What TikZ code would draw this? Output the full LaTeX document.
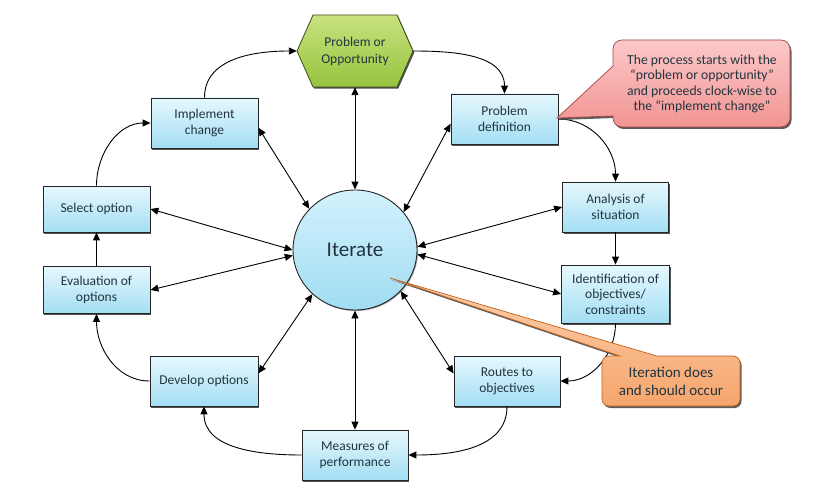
\documentclass[tikz,border=0pt]{standalone}
\usepackage{fontspec}
\setmainfont{Carlito}
\usetikzlibrary{arrows.meta,shadows,calc,shapes.geometric}
\definecolor{boxtop}{HTML}{E6F8FE}
\definecolor{boxbot}{HTML}{A3DEF3}
\definecolor{elltop}{HTML}{D3F2FD}
\definecolor{ellbot}{HTML}{A0DCF2}
\definecolor{hextop}{HTML}{C8E27E}
\definecolor{hexbot}{HTML}{96C43E}
\definecolor{hexline}{HTML}{3F4F1E}
\definecolor{pinktop}{HTML}{FBC9C8}
\definecolor{pinkbot}{HTML}{F19493}
\definecolor{pinkline}{HTML}{A84341}
\definecolor{orgtop}{HTML}{FCD0AE}
\definecolor{orgbot}{HTML}{F6A56C}
\definecolor{orgline}{HTML}{C2621C}
\definecolor{textc}{HTML}{22343F}
\tikzset{
  box/.style={draw=black!85, line width=0.8pt, top color=boxtop, bottom color=boxbot,
    minimum width=107pt, minimum height=50pt, align=center, inner sep=2pt,
    font=\fontsize{13.5}{16}\selectfont, text=textc,
    drop shadow={shadow xshift=1.3pt, shadow yshift=-1.6pt, fill=black!75, opacity=0.9}},
  flow/.style={line width=0.9pt, -{Triangle[length=8pt,width=7pt]}},
  spoke/.style={line width=0.9pt, {Triangle[length=8pt,width=7pt]}-{Triangle[length=8pt,width=7pt]}},
  hexshape/.style={draw=hexline, line width=0.8pt, top color=hextop, bottom color=hexbot,
    drop shadow={shadow xshift=1.3pt, shadow yshift=-1.6pt, fill=black!75, opacity=0.9}},
  pinkshape/.style={draw=pinkline, line width=0.7pt, top color=pinktop, bottom color=pinkbot,
    drop shadow={shadow xshift=1.5pt, shadow yshift=-2pt, fill=black!70, opacity=0.9}},
  orgshape/.style={draw=orgline, line width=0.7pt, top color=orgtop, bottom color=orgbot,
    drop shadow={shadow xshift=1.5pt, shadow yshift=-2pt, fill=black!70, opacity=0.9}},
  plain/.style={align=center, inner sep=0pt, text=textc}
}
\begin{document}
\begin{tikzpicture}[x=1pt,y=-1pt]
\useasboundingbox[fill=white] (0,0) rectangle (824,500);

% central ellipse
\node[draw=black!85, line width=0.9pt, ellipse, top color=elltop, bottom color=ellbot,
  minimum width=124pt, minimum height=120pt, inner sep=0pt, text=textc,
  font=\fontsize{21}{25}\selectfont,
  drop shadow={shadow xshift=1pt, shadow yshift=-1pt, fill=black!60, opacity=0.6}]
  (iter) at (355,250) {Iterate};

% hexagon
\path[hexshape] (297,51) -- (313,15) -- (397,15) -- (413,51) -- (397,87) -- (313,87) -- cycle;
\node[plain, minimum width=116pt, minimum height=72pt, font=\fontsize{13.5}{17}\selectfont]
  (hex) at (355,51) {Problem or\\Opportunity};

% boxes
\node[box, minimum width=107pt, minimum height=50pt] (pdef) at (504.5,119) {Problem\\definition};
\node[box, minimum width=106pt, minimum height=50pt] (ana) at (615.5,207) {Analysis of\\situation};
\node[box, minimum width=108pt, minimum height=58pt, font=\fontsize{13.5}{15.5}\selectfont] (ident) at (615.5,294) {Identification of\\objectives/\\constraints};
\node[box, minimum width=106pt, minimum height=50pt] (routes) at (507,381) {Routes to\\objectives};
\node[box, minimum width=106pt, minimum height=50pt] (meas) at (355,455) {Measures of\\performance};
\node[box, minimum width=108pt, minimum height=50pt] (dev) at (204,381) {Develop options};
\node[box, minimum width=107pt, minimum height=47pt] (eval) at (96.5,290) {Evaluation of\\options};
\node[box, minimum width=107pt, minimum height=46pt] (sel) at (96.5,209) {Select option};
\node[box, minimum width=107pt, minimum height=50pt] (impl) at (204.5,123) {Implement\\change};

% cycle connectors
\draw[flow] (impl.north) to[out=90,in=180] (hex.west);
\draw[flow] (hex.east) to[out=0,in=90] (pdef.north);
\draw[flow] (pdef.east) to[out=0,in=90] (ana.north);
\draw[flow] (ana.south) -- (ident.north);
\draw[flow] (ident.south) to[out=-90,in=0] (routes.east);
\draw[flow] (routes.south) to[out=-90,in=0] (meas.east);
\draw[flow] (meas.west) to[out=180,in=-90] (dev.south);
\draw[flow] (dev.west) to[out=180,in=-90] (eval.south);
\draw[flow] (eval.north) -- (sel.south);
\draw[flow] (sel.north) to[out=90,in=180] (impl.west);

% spokes
\draw[spoke] (iter.90) -- (hex.south);
\draw[spoke] (iter.38) -- (pdef.185);
\draw[spoke] (iter.3) -- (ana.west);
\draw[spoke] (iter.-4) -- (ident.west);
\draw[spoke] (iter.-42) -- (routes.172);
\draw[spoke] (iter.-90) -- (meas.north);
\draw[spoke] (iter.226) -- (dev.8);
\draw[spoke] (iter.185) -- (eval.east);
\draw[spoke] (iter.180) -- (sel.east);
\draw[spoke] (iter.138) -- (impl.-5);

% pink callout
\path[pinkshape] (557,118) -- (613,66) [rounded corners=9pt] -- (613,40) -- (790,40) -- (790,127)
  -- (613,127) [sharp corners] -- (613,116) -- cycle;
\node[plain, font=\fontsize{13.7}{15.5}\selectfont] (note) at (702,84)
  {The process starts with the\\“problem or opportunity”\\and proceeds clock-wise to\\the “implement change”};

% orange callout
\path[orgshape] (390,278) -- (657,356) [rounded corners=7pt] -- (740,356) -- (740,406)
  -- (602,406) -- (602,356) [sharp corners] -- (620,356) -- cycle;
\node[plain, font=\fontsize{15}{18}\selectfont] (iternote) at (671,381)
  {Iteration does\\and should occur};
\end{tikzpicture}
\end{document}
